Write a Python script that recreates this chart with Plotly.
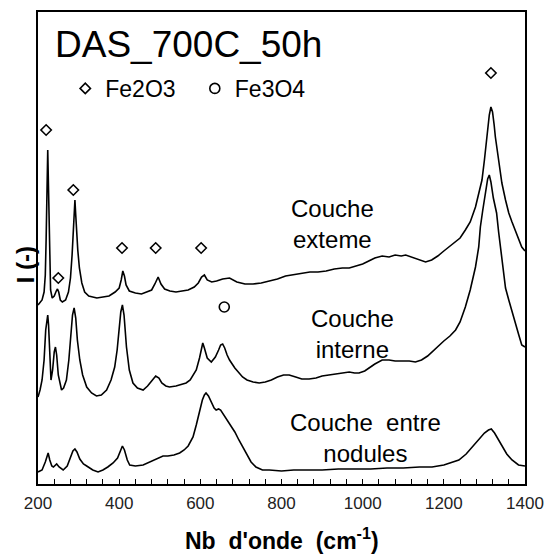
import plotly.graph_objects as go

# ---- data (wavenumber cm-1, intensity a.u.) ----
wn_ext = [200,205,210,215,218,220,222,224,226,228,231,235,240,245,248,251,255,260,268,275,280,284,287,289,291,293,295,298,302,308,315,325,335,345,360,375,390,400,405,409,413,417,425,440,455,470,480,488,496,503,512,525,540,555,570,585,595,603,610,617,628,640,655,672,690,710,730,750,770,790,810,826,850,870,890,910,930,950,967,985,1000,1015,1030,1048,1065,1080,1095,1106,1120,1135,1155,1170,1185,1200,1212,1225,1240,1253,1265,1278,1287,1294,1300,1306,1312,1316,1320,1324,1327,1335,1343,1352,1360,1368,1376,1384,1392,1400]
i_ext = [179,181,184,192,209,244,294,334,294,234,194,186,188,193,195,192,184,182,184,192,206,229,248,269,284,269,248,234,216,201,192,188,187,186,187,188,192,196,204,213,208,199,193,191,190,192,194,200,207,200,195,193,192,193,194,197,201,207,209,204,202,203,205,206,202,200,200,201,203,205,208,209,210,212,212,213,215,216,216,218,220,223,226,228,227,229,228,229,227,225,222,224,228,233,237,241,246,254,262,277,291,304,324,347,369,377,372,359,347,324,301,284,271,262,254,245,237,233]

wn_int = [200,205,210,215,219,222,224,226,229,232,236,240,243,246,250,255,258,263,270,276,281,285,289,293,297,303,310,320,332,344,356,369,380,389,395,400,404,408,412,418,425,434,445,459,470,480,490,498,505,515,524,540,555,565,575,590,598,603,606,610,617,627,637,645,650,655,660,666,672,685,695,704,715,730,745,760,775,790,805,819,835,850,868,885,900,920,935,950,967,980,991,1005,1016,1030,1048,1065,1080,1100,1115,1130,1145,1160,1180,1200,1215,1229,1240,1253,1265,1278,1286,1290,1296,1302,1308,1312,1316,1322,1330,1335,1339,1345,1352,1360,1368,1376,1384,1392,1400]
i_int = [87,94,104,124,154,166,169,159,124,104,114,132,137,129,109,97,94,96,104,124,149,169,176,166,144,124,109,97,91,88,89,94,104,117,134,154,172,179,169,137,114,101,96,94,98,103,108,106,101,98,97,98,100,101,104,114,126,137,141,136,126,122,127,134,139,140,136,129,124,116,111,107,104,102,101,102,104,107,109,109,107,105,105,106,108,109,110,111,112,111,111,113,116,120,124,124,123,123,123,122,124,128,136,143,148,154,162,177,194,217,237,257,274,292,305,309,302,286,271,252,239,216,196,184,172,161,150,139,137]

wn_nod = [200,210,218,222,225,229,234,238,246,252,262,272,280,286,291,296,303,312,320,335,348,360,372,385,396,403,408,413,420,426,440,459,475,490,500,508,520,535,549,560,570,582,590,598,605,610,614,620,627,634,639,645,650,655,662,672,685,695,704,715,725,737,753,770,800,830,860,900,940,980,1020,1060,1100,1140,1171,1200,1220,1237,1255,1270,1285,1300,1310,1317,1325,1335,1343,1355,1368,1384,1400]
i_nod = [12,14,22,29,31,24,18,17,20,17,14,18,26,33,35,32,25,20,18,14,12,14,17,21,26,34,38,34,24,19,18,19,22,25,27,28,28,29,31,34,38,47,59,74,84,89,91,88,82,76,74,75,74,71,66,61,52,44,37,29,22,17,14,14,13,14,14,14,15,15,15,16,16,17,17,19,22,24,30,37,44,51,54,55,51,44,37,30,24,19,18]

# peak assignments (marker positions)
fe2o3_wn = [220, 250, 287, 407, 490, 602, 1316]
fe2o3_i = [354, 206, 294, 236, 236, 236, 411]
fe3o4_wn = [659]
fe3o4_i = [177]

x_ticks = [200, 400, 600, 800, 1000, 1200, 1400]
x_range = [200, 1400]
y_range = [0, 472]

FONT = "Liberation Sans, Arial, sans-serif"
LINE = dict(color="black", width=1.6)

fig = go.Figure()
for wn, ii, name in [(wn_ext, i_ext, "Couche externe"),
                     (wn_int, i_int, "Couche interne"),
                     (wn_nod, i_nod, "Couche entre nodules")]:
    fig.add_trace(go.Scatter(x=wn, y=ii, mode="lines", line=LINE,
                             name=name, showlegend=False))

fig.add_trace(go.Scatter(x=fe2o3_wn, y=fe2o3_i, mode="markers", name="Fe2O3",
                         marker=dict(symbol="diamond-open", size=8, color="black",
                                     line=dict(width=1.6, color="black")),
                         legend="legend"))
fig.add_trace(go.Scatter(x=fe3o4_wn, y=fe3o4_i, mode="markers", name="Fe3O4",
                         marker=dict(symbol="circle-open", size=10, color="black",
                                     line=dict(width=1.6, color="black")),
                         legend="legend2"))

leg_common = dict(orientation="h", xanchor="left", yanchor="middle",
                  font=dict(family=FONT, size=23, color="black"),
                  bgcolor="rgba(0,0,0,0)", borderwidth=0, itemwidth=30)
fig.update_layout(
    width=548, height=555,
    margin=dict(l=38, r=23, t=12, b=71),
    paper_bgcolor="white", plot_bgcolor="white",
    font=dict(family=FONT, color="black"),
    legend=dict(x=0.056, y=0.838, **leg_common),
    legend2=dict(x=0.322, y=0.838, **leg_common),
    xaxis=dict(range=x_range, tickvals=x_ticks, ticks="inside", ticklen=5,
               tickwidth=1.2, tickcolor="black", ticklabelstandoff=3,
               minor=dict(dtick=40, ticks="inside", ticklen=5, tickwidth=1.2,
                          tickcolor="black"),
               showline=True, linecolor="black", linewidth=1.6, mirror=True,
               showgrid=False, zeroline=False, automargin=False,
               tickfont=dict(family=FONT, size=17, color="#222")),
    yaxis=dict(range=y_range, showticklabels=False, ticks="",
               showline=True, linecolor="black", linewidth=1.6, mirror=True,
               showgrid=False, zeroline=False, automargin=False),
)

ann_font = dict(family=FONT, size=24, color="black")
fig.add_annotation(text="DAS_700C_50h", xref="paper", yref="paper",
                   x=0.03, y=0.932, xanchor="left", yanchor="middle",
                   showarrow=False, font=dict(family=FONT, size=37, color="black"))
fig.add_annotation(text="Couche<br>exteme", x=926, y=260,
                   xref="x", yref="y", showarrow=False, font=ann_font,
                   xanchor="center", yanchor="middle")
fig.add_annotation(text="Couche<br>interne", x=974, y=150, xref="x", yref="y",
                   showarrow=False, font=ann_font, xanchor="center", yanchor="middle")
fig.add_annotation(text="Couche  entre<br>nodules", x=1006, y=46, xref="x", yref="y",
                   showarrow=False, font=ann_font, xanchor="center", yanchor="middle")
fig.add_annotation(text="<b>I (-)</b>", xref="paper", yref="paper",
                   x=-0.025, y=0.465, xanchor="center", yanchor="middle",
                   textangle=-90, showarrow=False,
                   font=dict(family=FONT, size=24, color="black"))
fig.add_annotation(text="<b>Nb  d'onde  (cm<sup>-1</sup>)</b>", xref="paper", yref="paper",
                   x=0.5, y=-0.116, xanchor="center", yanchor="middle",
                   showarrow=False, font=dict(family=FONT, size=23, color="black"))

fig.write_html("out.html", config={"displayModeBar": False},
               post_script="document.body.style.margin='0';document.body.style.overflow='hidden';")
